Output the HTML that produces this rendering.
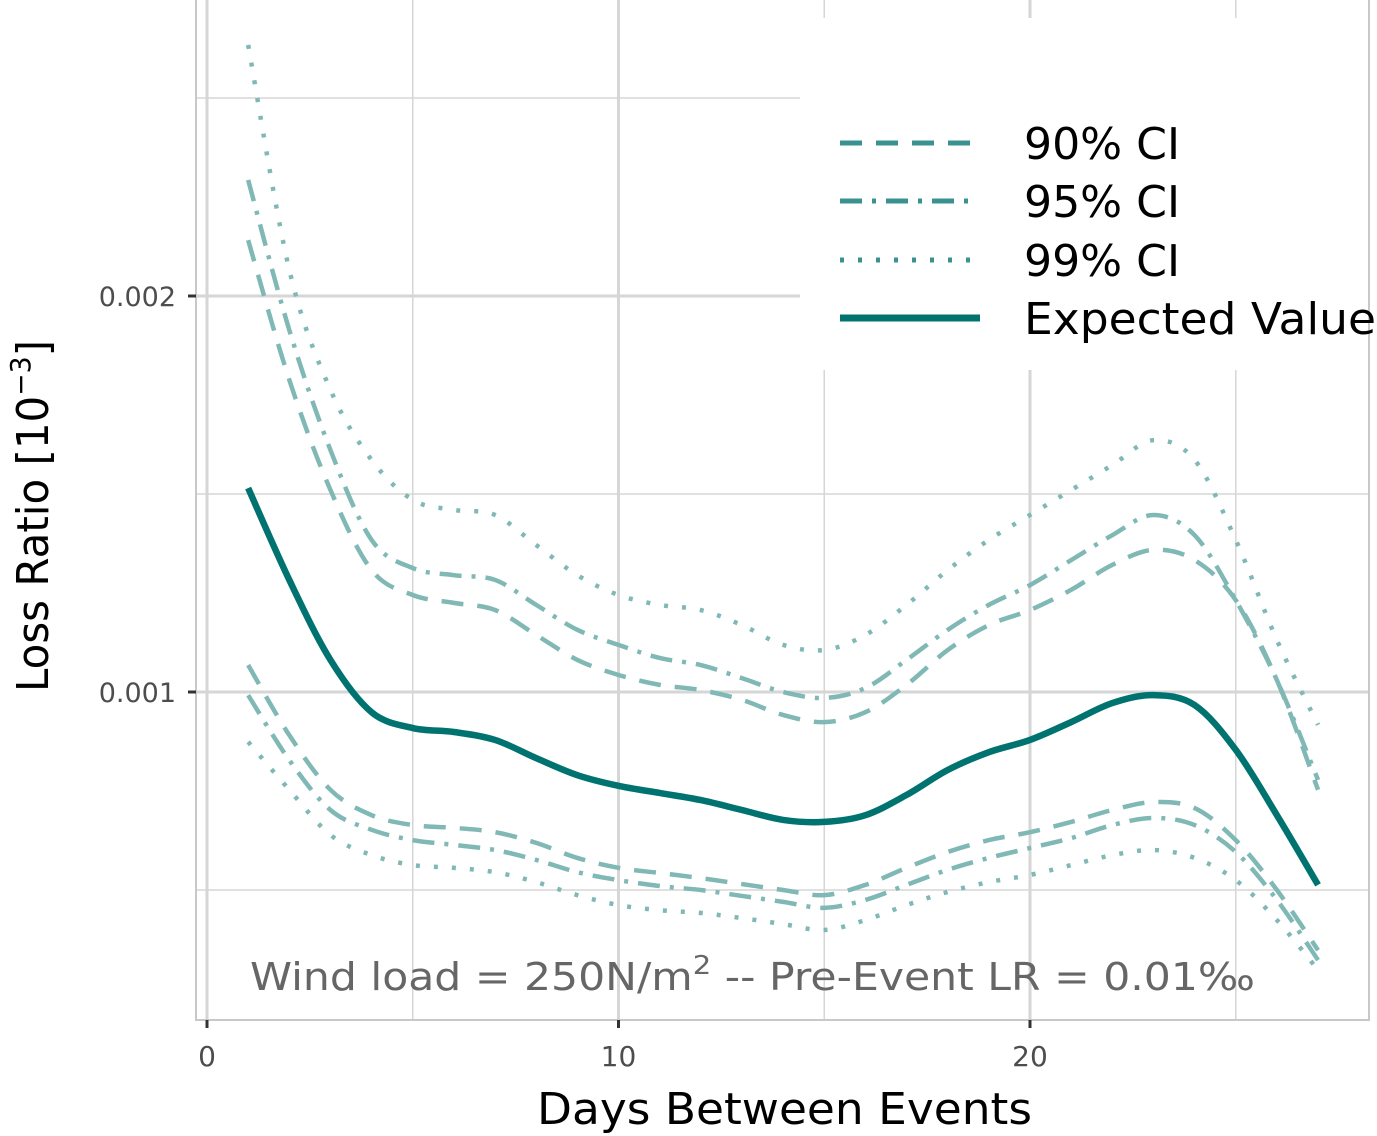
<!DOCTYPE html>
<html><head><meta charset="utf-8"><style>
body{margin:0;background:#fff}
svg{display:block;font-family:"DejaVu Sans","Liberation Sans",sans-serif}
</style></head><body>
<svg id="chart" width="1377" height="1136" viewBox="0 0 1377 1136">
<g id="grid"></g>
<rect x="800" y="18" width="577" height="352" fill="#fff"/>
<rect x="196" y="-2" width="1173" height="1022" fill="none" stroke="#c8c8c8" stroke-width="2"/>
<g id="series"></g>
<g id="axes"></g>
<text x="250" y="990" font-size="38" fill="#666" textLength="1005" lengthAdjust="spacingAndGlyphs">Wind load = 250N/m<tspan dy="-16" font-size="26">2</tspan><tspan dy="16">  --  Pre-Event LR = 0.01‰</tspan></text>
<text x="537" y="1124" font-size="44" fill="#000" textLength="495" lengthAdjust="spacingAndGlyphs">Days Between Events</text>
<text transform="translate(48,692) rotate(-90)" font-size="44" fill="#000" textLength="352" lengthAdjust="spacingAndGlyphs">Loss Ratio [10<tspan dy="-18" font-size="28">−3</tspan><tspan dy="18">]</tspan></text>
<g font-size="44" fill="#000">
<line x1="840" y1="143" x2="970" y2="143" stroke="#3a9290" stroke-width="5" stroke-dasharray="22,14"/>
<text x="1024" y="159" textLength="156" lengthAdjust="spacingAndGlyphs">90% CI</text>
<line x1="840" y1="201" x2="970" y2="201" stroke="#3a9290" stroke-width="5" stroke-dasharray="22,10,4,10"/>
<text x="1024" y="217" textLength="156" lengthAdjust="spacingAndGlyphs">95% CI</text>
<line x1="840" y1="260" x2="970" y2="260" stroke="#3a9290" stroke-width="5" stroke-dasharray="4,14"/>
<text x="1024" y="276" textLength="156" lengthAdjust="spacingAndGlyphs">99% CI</text>
<line x1="840" y1="318" x2="980" y2="318" stroke="#007370" stroke-width="7"/>
<text x="1024" y="334" textLength="352" lengthAdjust="spacingAndGlyphs">Expected Value</text>
</g>
</svg>
<script>
const days=[1,2,3,4,5,6,7,8,9,10,11,12,13,14,15,16,17,18,19,20,21,22,23,24,25,26,27];
const expected=[1.515,1.283,1.081,0.949,0.909,0.899,0.879,0.833,0.790,0.763,0.745,0.727,0.702,0.677,0.672,0.689,0.740,0.803,0.848,0.879,0.924,0.972,0.992,0.967,0.854,0.689,0.513];
const ci90Upper=[2.141,1.788,1.510,1.308,1.245,1.225,1.207,1.144,1.081,1.043,1.018,1.005,0.980,0.942,0.924,0.949,1.018,1.106,1.169,1.207,1.258,1.321,1.359,1.333,1.232,1.030,0.753];
const ci95Upper=[2.293,1.914,1.611,1.384,1.313,1.295,1.283,1.220,1.157,1.119,1.086,1.068,1.035,1.000,0.985,1.010,1.081,1.157,1.220,1.270,1.333,1.396,1.447,1.396,1.232,1.030,0.778];
const ci99Upper=[2.634,2.066,1.763,1.586,1.485,1.460,1.447,1.371,1.295,1.245,1.220,1.207,1.169,1.119,1.106,1.144,1.220,1.308,1.384,1.447,1.510,1.573,1.636,1.586,1.384,1.131,0.917];
const ci90Lower=[1.068,0.891,0.753,0.689,0.664,0.657,0.646,0.619,0.581,0.556,0.543,0.530,0.515,0.500,0.487,0.513,0.556,0.596,0.626,0.646,0.672,0.702,0.722,0.707,0.626,0.500,0.348];
const ci95Lower=[0.992,0.828,0.702,0.652,0.626,0.614,0.601,0.576,0.545,0.525,0.510,0.500,0.485,0.470,0.455,0.475,0.513,0.551,0.581,0.606,0.631,0.664,0.682,0.664,0.596,0.475,0.323];
const ci99Lower=[0.874,0.753,0.639,0.588,0.563,0.556,0.545,0.520,0.487,0.462,0.449,0.442,0.429,0.414,0.399,0.424,0.462,0.495,0.520,0.538,0.563,0.588,0.601,0.581,0.525,0.424,0.298];
const xTicks=[0,10,20];
const yTicks=[1,2];
const yTickLabels=["0.001","0.002"];

const NS="http://www.w3.org/2000/svg";
const sx=v=>207+v*41.15;
const sy=v=>1088-v*396;
function mk(tag,attrs,parent){const e=document.createElementNS(NS,tag);for(const k in attrs)e.setAttribute(k,attrs[k]);parent.appendChild(e);return e;}
const grid=document.getElementById('grid'),axes=document.getElementById('axes'),series=document.getElementById('series');
[0.5,1,1.5,2,2.5].forEach(v=>{
  const l=mk('line',{x1:196,x2:1369,y1:sy(v),y2:sy(v),stroke:'#d6d6d6','stroke-width':Number.isInteger(v)?3:1.5},grid);
  
  
});
[0,5,10,15,20,25].forEach(v=>{
  const l=mk('line',{x1:sx(v),x2:sx(v),y1:0,y2:1020,stroke:'#d6d6d6','stroke-width':v%10===0?3:1.5},grid);
  
  
});
xTicks.forEach(v=>{
  const t=mk('line',{x1:sx(v),x2:sx(v),y1:1020,y2:1028,stroke:'#333','stroke-width':3},axes);
  
  
  const tx=mk('text',{x:sx(v),y:1066,'font-size':28,'text-anchor':'middle',fill:'#4d4d4d'},axes);
  tx.textContent=v;
  
  
});
yTicks.forEach((v,i)=>{
  const t=mk('line',{x1:188,x2:196,y1:sy(v),y2:sy(v),stroke:'#333','stroke-width':3},axes);
  
  
  const tx=mk('text',{x:176,y:sy(v)+10,'font-size':27,'text-anchor':'end',fill:'#4d4d4d'},axes);
  tx.textContent=yTickLabels[i];
  
  
});
function pathD(xs,ys){
  const p=xs.map((x,i)=>[sx(x),sy(ys[i])]);
  let d=`M${p[0][0]},${p[0][1]}`;
  for(let i=0;i<p.length-1;i++){
    const p0=p[i-1]||p[i],p1=p[i],p2=p[i+1],p3=p[i+2]||p2;
    const c1=[p1[0]+(p2[0]-p0[0])/6,p1[1]+(p2[1]-p0[1])/6];
    const c2=[p2[0]-(p3[0]-p1[0])/6,p2[1]-(p3[1]-p1[1])/6];
    d+=`C${c1[0]},${c1[1]} ${c2[0]},${c2[1]} ${p2[0]},${p2[1]}`;
  }
  return d;
}
const defs=[
 [ci99Upper,'4,14','ci99-upper'],[ci95Upper,'22,10,4,10','ci95-upper'],[ci90Upper,'22,14','ci90-upper'],
 [ci99Lower,'4,14','ci99-lower'],[ci95Lower,'22,10,4,10','ci95-lower'],[ci90Lower,'22,14','ci90-lower']];
defs.forEach(([vals,dash,name])=>{
  const p=mk('path',{d:pathD(days,vals),fill:'none',stroke:'#80b8b6','stroke-width':4.5,'stroke-dasharray':dash},series);
  
  
});
const ev=mk('path',{d:pathD(days,expected),fill:'none',stroke:'#007370','stroke-width':6.5},series);


</script>
</body></html>
